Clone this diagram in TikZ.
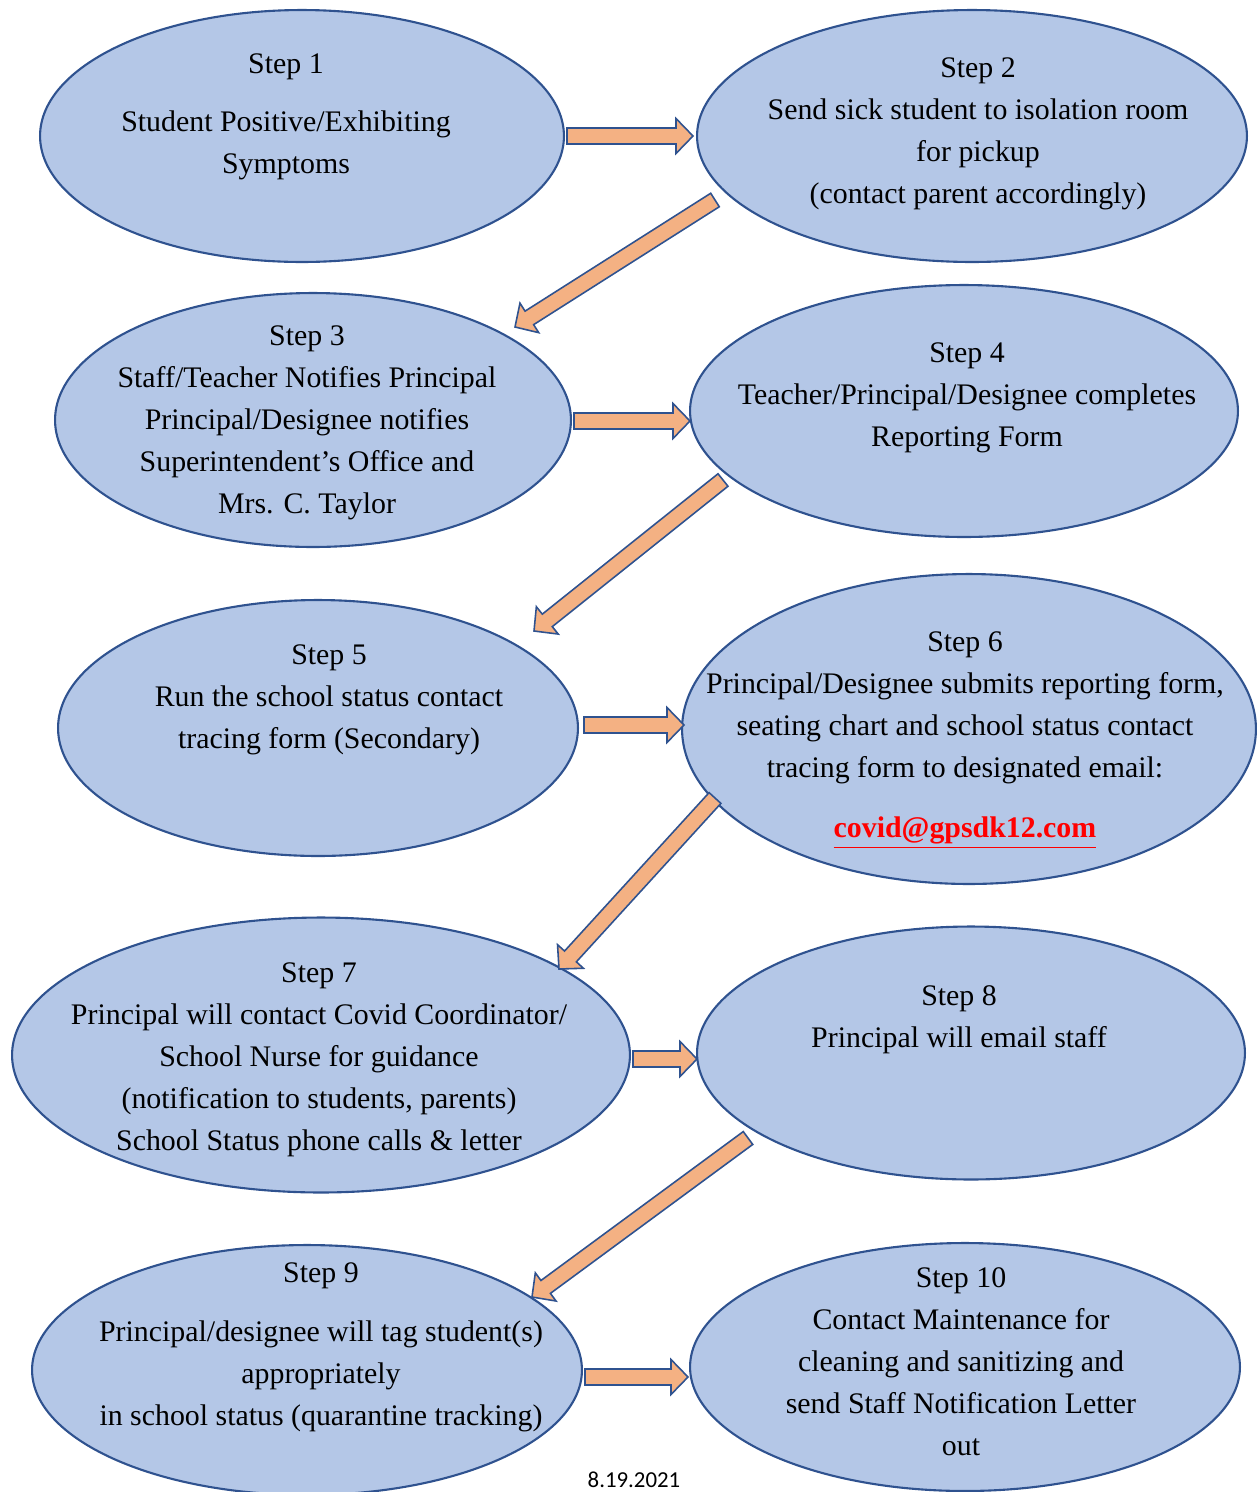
\documentclass[tikz,border=0pt]{standalone}
\usepackage{fontspec}
\setmainfont{Liberation Serif}
\newfontfamily\datefont{Carlito}
\usetikzlibrary{calc, shapes.geometric}

\definecolor{ellfill}{HTML}{B4C7E7}
\definecolor{ellline}{HTML}{2F528F}
\definecolor{arrowfill}{HTML}{F4B183}
\definecolor{mailred}{HTML}{FF0000}

\tikzset{
  stepellipse/.style={ellipse, draw=ellline, fill=ellfill, line width=1.2pt, inner sep=0pt},
  steptext/.style={align=center, inner sep=0pt, font=\fontsize{17}{23.9}\selectfont},
  blockarrow/.style={draw=ellline, fill=arrowfill, line width=0.9pt, line join=miter},
  datetext/.style={inner sep=0pt, font=\datefont\fontsize{13}{15}\selectfont}
}

\newcommand{\shafthalf}{0.16cm}
\newcommand{\headhalf}{0.35cm}
\newcommand{\headlen}{0.34cm}
\newcommand{\blockarrow}[2]{%
  \draw[blockarrow] let \p1 = #1, \p2 = #2, \p3 = ($(\p2)-(\p1)$),
      \n1 = {atan2(\y3,\x3)} in
    ($(\p1)+({\n1+90}:\shafthalf)$)
    -- ($(\p2)+({\n1+180}:\headlen)+({\n1+90}:\shafthalf)$)
    -- ($(\p2)+({\n1+180}:\headlen)+({\n1+90}:\headhalf)$)
    -- (\p2)
    -- ($(\p2)+({\n1+180}:\headlen)+({\n1-90}:\headhalf)$)
    -- ($(\p2)+({\n1+180}:\headlen)+({\n1-90}:\shafthalf)$)
    -- ($(\p1)+({\n1-90}:\shafthalf)$)
    -- cycle;}

\begin{document}
\begin{tikzpicture}[x=0.02cm, y=-0.02cm]

\useasboundingbox (0,0) rectangle (1257,1492);

\node [stepellipse, minimum width=10.48cm, minimum height=5.04cm] (s1) at (302,136) {};
\node [stepellipse, minimum width=11.00cm, minimum height=5.04cm] (s2) at (972,136) {};
\node [stepellipse, minimum width=10.32cm, minimum height=5.08cm] (s3) at (313,420) {};
\node [stepellipse, minimum width=10.96cm, minimum height=5.04cm] (s4) at (964,411) {};
\node [stepellipse, minimum width=10.40cm, minimum height=5.12cm] (s5) at (318,728) {};
\node [stepellipse, minimum width=11.48cm, minimum height=6.20cm] (s6) at (969,729) {};
\node [stepellipse, minimum width=12.36cm, minimum height=5.50cm] (s7) at (321,1055) {};
\node [stepellipse, minimum width=10.96cm, minimum height=5.06cm] (s8) at (971,1053) {};
\node [stepellipse, minimum width=11.00cm, minimum height=5.00cm] (s9) at (307,1370) {};
\node [stepellipse, minimum width=11.00cm, minimum height=4.96cm] (s10) at (965,1367) {};

\node [steptext] (t1) at (286,117) {Step 1\\[0.32cm]Student Positive/Exhibiting\\Symptoms};
\node [steptext] (t2) at (978,134) {Step 2\\Send sick student to isolation room\\for pickup\\(contact parent accordingly)};
\node [steptext] (t3) at (307,423) {Step 3\\Staff/Teacher Notifies Principal\\Principal/Designee notifies\\Superintendent’s Office and\\Mrs. C. Taylor};
\node [steptext] (t4) at (967,398) {Step 4\\Teacher/Principal/Designee completes\\Reporting Form};
\node [steptext] (t5) at (329,700) {Step 5\\Run the school status contact\\tracing form (Secondary)};
\node [steptext] (t6) at (965,740) {Step 6\\Principal/Designee submits reporting form,\\seating chart and school status contact\\tracing form to designated email:\\[0.36cm]\textcolor{mailred}{\underline{\textbf{covid@gpsdk12.com}}}};
\node [steptext] (t7) at (319,1060) {Step 7\\Principal will contact Covid Coordinator/\\School Nurse for guidance\\(notification to students, parents)\\School Status phone calls \& letter};
\node [steptext] (t8) at (959,1020) {Step 8\\Principal will email staff};
\node [steptext] (t9) at (321,1347) {Step 9\\[0.34cm]Principal/designee will tag student(s)\\appropriately\\in school status (quarantine tracking)};
\node [steptext] (t10) at (961,1362) {Step 10\\Contact Maintenance for\\cleaning and sanitizing and\\send Staff Notification Letter\\out};

\node [datetext] (date) at (634,1480) {8.19.2021};

% block arrows between the steps
\blockarrow{($(s1)+(265,0)$)}{($(s2)+(-279,0)$)}
\blockarrow{($(s2)+(-257,64)$)}{($(s3)+(202,-93)$)}
\blockarrow{($(s3)+(261,1)$)}{($(s4)+(-274,10)$)}
\blockarrow{($(s4)+(-241,69)$)}{($(s5)+(216,-97)$)}
\blockarrow{($(s5)+(266,-3)$)}{($(s6)+(-285,-4)$)}
\blockarrow{($(s6)+(-254,69)$)}{($(s7)+(238,-86)$)}
\blockarrow{($(s7)+(312,4)$)}{($(s8)+(-274,6)$)}
\blockarrow{($(s8)+(-223,85)$)}{($(s9)+(225,-73)$)}
\blockarrow{($(s9)+(278,7)$)}{($(s10)+(-277,10)$)}

\end{tikzpicture}
\end{document}
